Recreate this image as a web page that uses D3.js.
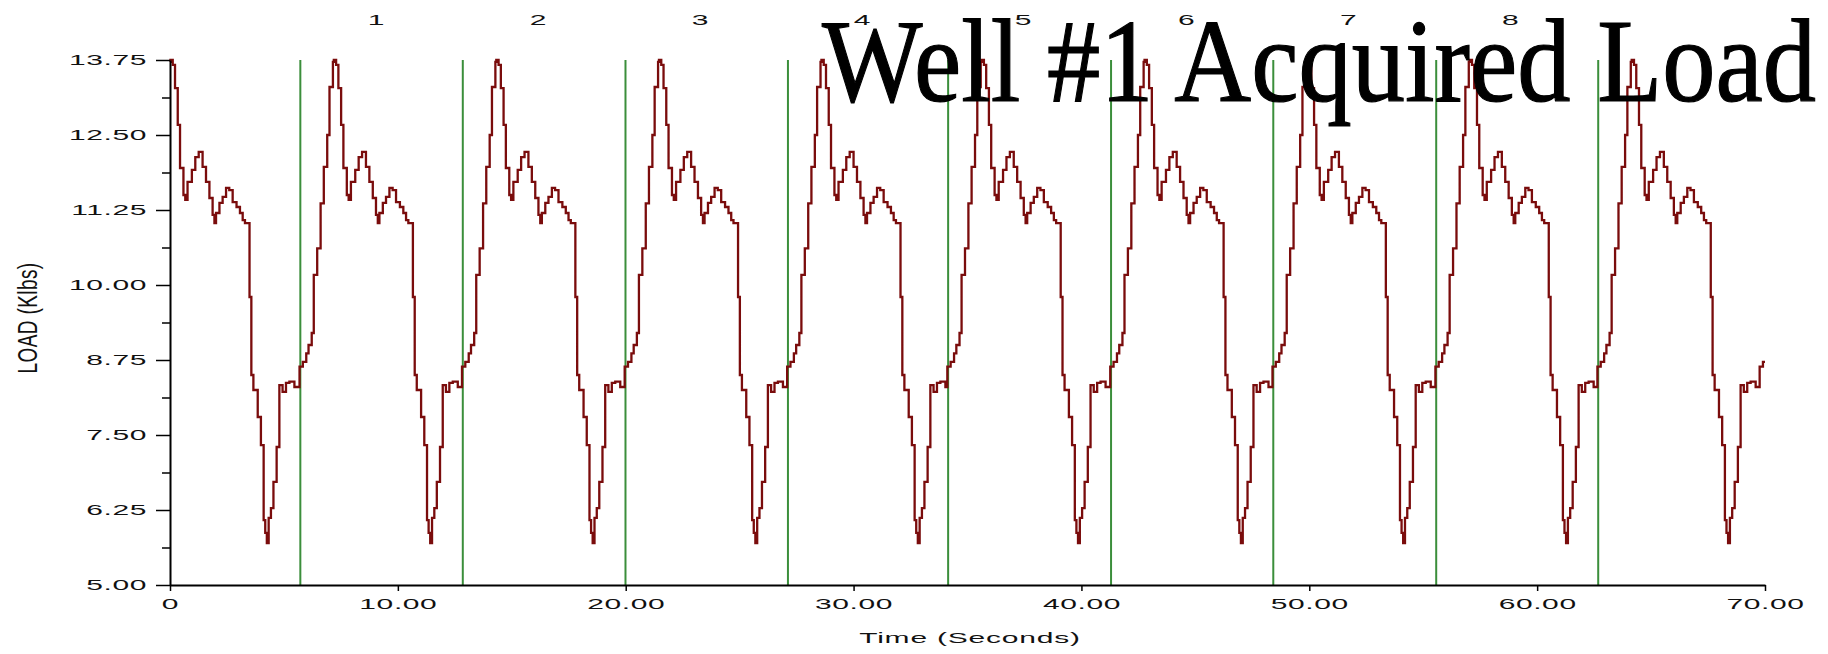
<!DOCTYPE html>
<html lang="en">
<head>
<meta charset="UTF-8">
<title>Well #1 Acquired Load</title>
<style>
    html, body { margin: 0; height: 100%; background: #fff; }
    svg { display: block; }
    .lbl { font-family: "Liberation Sans", Arial, sans-serif; font-size: 15px; fill: #111; letter-spacing: 0.3px; }
    .axis path, .axis line { stroke: #000; }
</style>
</head>
<body>
<div class="chart"></div>
<script src="https://d3js.org/d3.v7.min.js"></script>
<script>
// one pump stroke: seconds after the green stroke marker, load in Klbs
var strokeOffsets = [-0.035, 0.11, 0.26, 0.36, 0.50, 0.59, 0.74, 0.89, 1.03, 1.18, 1.28, 1.43, 1.47, 1.57, 1.67,
    1.79, 1.89, 2.04, 2.12, 2.22, 2.41, 2.56, 2.71, 2.88, 3.03, 3.18, 3.32, 3.40, 3.47, 3.62, 3.76, 3.91, 4.05,
    4.20, 4.37, 4.52, 4.64, 4.74, 4.94, 5.02, 5.11, 5.30, 5.44, 5.56, 5.63, 5.70, 5.78, 5.88, 5.99, 6.13, 6.25,
    6.39, 6.54, 6.69, 6.91];
var strokeLoads = [8.64, 8.72, 8.86, 9.00, 9.20, 10.17, 10.61, 11.36, 11.97, 12.50, 13.30, 13.72, 13.75, 13.67, 13.28,
    12.67, 11.95, 11.50, 11.42, 11.72, 11.92, 12.13, 12.22, 11.97, 11.72, 11.45, 11.17, 11.03, 11.20, 11.37, 11.47, 11.62, 11.58,
    11.38, 11.30, 11.20, 11.08, 11.03, 9.80, 8.50, 8.25, 7.80, 7.33, 6.08, 5.87, 5.70, 6.12, 6.28, 6.72, 7.30, 8.33,
    8.22, 8.37, 8.39, 8.30];

// where each stroke begins (first and last are cut by the time window)
var strokeStarts = [-1.45, 5.72, 12.85, 19.99, 27.12, 34.15, 41.30, 48.42, 55.57, 62.68, 69.80];
// green marker lines
var markerTimes = [5.72, 12.85, 19.99, 27.12, 34.15, 41.30, 48.42, 55.57, 62.68];
var strokeLabels = ["1", "2", "3", "4", "5", "6", "7", "8"];
var strokeLabelTimes = [9.06, 16.17, 23.28, 30.39, 37.45, 44.62, 51.73, 58.84];

var xTicks = [0, 10, 20, 30, 40, 50, 60, 70];
var yTicks = [5.00, 6.25, 7.50, 8.75, 10.00, 11.25, 12.50, 13.75];
var yMinorTicks = [5.625, 6.875, 8.125, 9.375, 10.625, 11.875, 13.125];

var W = 1828, H = 654;
var x = d3.scaleLinear().domain([0, 70]).range([170, 1765]);
var y = d3.scaleLinear().domain([5, 13.75]).range([585, 60]);

// lay the stroke profile at each stroke start
var series = [];
var before = null;
strokeStarts.forEach(function (s, k) {
    var next = k < strokeStarts.length - 1 ? strokeStarts[k + 1] + strokeOffsets[0] : Infinity;
    strokeOffsets.forEach(function (o, i) {
        var t = s + o;
        if (t < 0) { before = strokeLoads[i]; return; }
        if (t < next && t <= 70) series.push({ t: t, load: strokeLoads[i] });
    });
});
if (before !== null) series.unshift({ t: 0, load: before });
series.push({ t: 70, load: series[series.length - 1].load });

var svg = d3.select(".chart").append("svg")
    .attr("width", W)
    .attr("height", H);

// stroke markers
svg.append("g").selectAll("line")
    .data(markerTimes)
    .enter().append("line")
    .attr("x1", d => x(d)).attr("x2", d => x(d))
    .attr("y1", y(13.75)).attr("y2", y(5))
    .attr("stroke", "#3b8e3b")
    .attr("stroke-width", 2);

// load trace
var line = d3.line().x(d => x(d.t)).y(d => y(d.load)).curve(d3.curveStepAfter);
svg.append("path")
    .attr("d", line(series))
    .attr("fill", "none")
    .attr("stroke", "#7a0c0c")
    .attr("stroke-width", 2.3);

// y axis
var yAxis = svg.append("g").attr("class", "axis")
    .attr("transform", `translate(${x(0)},0)`)
    .call(d3.axisLeft(y).tickValues(yTicks).tickSize(14).tickSizeOuter(0).tickFormat(d3.format(".2f")));
yAxis.select(".domain").attr("stroke-width", 2);
yAxis.selectAll(".tick line").attr("stroke-width", 1.5);
yAxis.selectAll("text")
    .attr("class", "lbl")
    .attr("font-family", null).attr("font-size", null)
    .attr("x", 0)
    .attr("transform", "translate(-23,0) scale(2,1)");

var yMinor = svg.append("g").attr("class", "axis")
    .attr("transform", `translate(${x(0)},0)`)
    .call(d3.axisLeft(y).tickValues(yMinorTicks).tickSize(8).tickSizeOuter(0).tickFormat(""));
yMinor.select(".domain").remove();
yMinor.selectAll(".tick line").attr("stroke-width", 1.5);

// x axis
var xAxis = svg.append("g").attr("class", "axis")
    .attr("transform", `translate(0,${y(5)})`)
    .call(d3.axisBottom(x).tickValues(xTicks).tickSize(6).tickSizeOuter(0)
        .tickFormat(d => d === 0 ? "0" : d3.format(".2f")(d)));
xAxis.select(".domain").attr("stroke-width", 2);
xAxis.selectAll(".tick line").attr("stroke-width", 1.5);
xAxis.selectAll("text")
    .attr("class", "lbl")
    .attr("font-family", null).attr("font-size", null)
    .attr("y", 24).attr("dy", 0)
    .attr("transform", "scale(2,1)");

// stroke numbers along the top
svg.append("g").selectAll("text")
    .data(strokeLabels)
    .enter().append("text")
    .attr("class", "lbl")
    .attr("text-anchor", "middle")
    .attr("transform", (d, i) => `translate(${x(strokeLabelTimes[i])},25) scale(2,1)`)
    .text(d => d);

// axis titles
svg.append("text")
    .attr("class", "lbl")
    .attr("text-anchor", "middle")
    .attr("transform", "translate(970,643) scale(2,1)")
    .style("letter-spacing", "0.4px")
    .text("Time (Seconds)");

svg.append("text")
    .attr("class", "lbl")
    .attr("text-anchor", "middle")
    .attr("transform", "translate(36.5,318) rotate(-90) scale(1,1.45)")
    .style("font-size", "19px")
    .style("letter-spacing", "0.4px")
    .text("LOAD (Klbs)");

// big title laid over the plot
svg.append("text")
    .attr("x", 822)
    .attr("y", 101)
    .attr("textLength", 994)
    .attr("lengthAdjust", "spacingAndGlyphs")
    .style("font-family", "'Liberation Serif', 'Times New Roman', serif")
    .style("font-size", "118px")
    .style("fill", "#000")
    .style("stroke", "#000")
    .style("stroke-width", "1.2px")
    .text("Well #1 Acquired Load");
</script>
</body>
</html>
